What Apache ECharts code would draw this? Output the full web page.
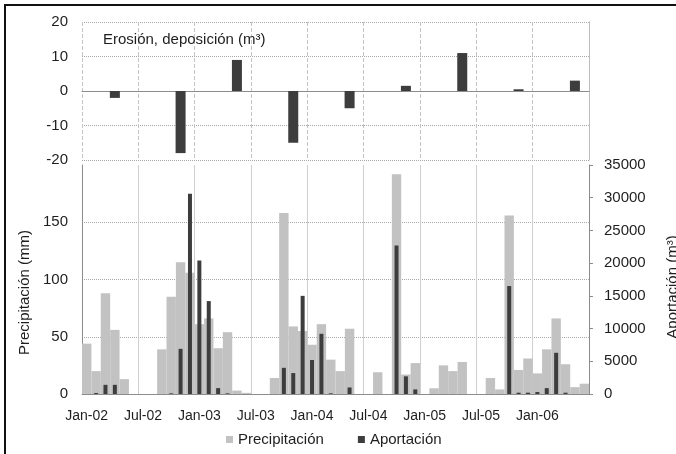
<!DOCTYPE html>
<html><head><meta charset="utf-8">
<script src="https://cdn.jsdelivr.net/npm/echarts@6/dist/echarts.min.js"></script>
<style>html,body{margin:0;padding:0;background:#fff;}#c{width:676px;height:454px;}</style>
</head><body><div id="c"></div>
<script>
const months = [
  'Jan-02','Feb-02','Mar-02','Apr-02','May-02','Jun-02','Jul-02','Aug-02','Sep-02','Oct-02','Nov-02','Dec-02',
  'Jan-03','Feb-03','Mar-03','Apr-03','May-03','Jun-03','Jul-03','Aug-03','Sep-03','Oct-03','Nov-03','Dec-03',
  'Jan-04','Feb-04','Mar-04','Apr-04','May-04','Jun-04','Jul-04','Aug-04','Sep-04','Oct-04','Nov-04','Dec-04',
  'Jan-05','Feb-05','Mar-05','Apr-05','May-05','Jun-05','Jul-05','Aug-05','Sep-05','Oct-05','Nov-05','Dec-05',
  'Jan-06','Feb-06','Mar-06','Apr-06','May-06','Jun-06'
];
// Precipitación (mm), left axis
const precipitacion = [
  44, 20, 88, 56, 13, 0, 0, 0, 39, 85, 115, 106,
  61, 66, 40, 54, 3, 1, 0, 0, 14, 158, 59, 55,
  43, 61, 30, 20, 57, 0, 0, 19, 0, 192, 17, 27,
  0, 5, 25, 20, 28, 0, 0, 14, 4, 156, 21, 31,
  18, 39, 66, 26, 6, 9
];
// Aportación (m³), right axis
const aportacion = [
  0, 150, 1400, 1400, 0, 0, 0, 0, 0, 100, 6900, 30600,
  20400, 14200, 900, 100, 0, 0, 0, 0, 0, 4000, 3200, 15000,
  5200, 9200, 100, 0, 1000, 0, 0, 0, 0, 22700, 2700, 700,
  0, 0, 0, 0, 0, 0, 0, 0, 0, 16500, 200, 200,
  300, 900, 6300, 200, 0, 0
];
// Erosión, deposición (m³), top panel
const erosion = [
  null, null, null, -2, null, null, null, null, null, null, -18, null,
  null, null, null, null, 9, null, null, null, null, null, -15, null,
  null, null, null, null, -5, null, null, null, null, null, 1.5, null,
  null, null, null, null, 11, null, null, null, null, null, 0.5, null,
  null, null, null, null, 3, null
];
const FONT = '"Liberation Sans", Arial, sans-serif';
const TXT = '#1e1e1e';
const chart = echarts.init(document.getElementById('c'), null, {renderer: 'canvas'});
chart.setOption({
  animation: false,
  backgroundColor: '#fff',
  textStyle: {fontFamily: FONT},
  title: {
    text: 'Erosión, deposición (m³)', left: 103, top: 32, padding: 0,
    textStyle: {fontSize: 15, fontWeight: 'normal', color: TXT, fontFamily: FONT}
  },
  legend: {
    data: ['Precipitación', 'Aportación'], left: 226, top: 432, padding: 0,
    itemWidth: 7, itemHeight: 7, itemGap: 34, icon: 'rect',
    textStyle: {fontSize: 15, color: TXT, fontFamily: FONT}
  },
  grid: [
    {left: 82, right: 87, top: 22, height: 138, containLabel: false, outerBoundsMode: 'none'},
    {left: 82, right: 87, top: 165, height: 229, containLabel: false, outerBoundsMode: 'none'}
  ],
  xAxis: [
    {gridIndex: 0, type: 'category', data: months,
     axisLine: {onZero: true, lineStyle: {color: '#8c8c8c'}},
     axisTick: {show: false}, axisLabel: {show: false},
     splitLine: {show: true, interval: 5, lineStyle: {color: '#c4c4c4', type: 'dashed'}}},
    {gridIndex: 1, type: 'category', data: months,
     axisLine: {lineStyle: {color: '#8c8c8c'}},
     axisTick: {interval: 5, length: 4, lineStyle: {color: '#8c8c8c'}},
     axisLabel: {interval: 5, margin: 15, fontSize: 14, color: TXT, fontFamily: FONT},
     splitLine: {show: true, interval: 5, lineStyle: {color: '#cfcfcf'}}},
    {gridIndex: 1, type: 'category', data: months, show: false}
  ],
  yAxis: [
    {gridIndex: 0, type: 'value', min: -20, max: 20, interval: 10,
     axisLine: {show: false}, axisTick: {show: false},
     axisLabel: {margin: 14, fontSize: 15, color: TXT, fontFamily: FONT},
     splitLine: {lineStyle: {color: '#a8a8a8', type: 'dotted'}}},
    {gridIndex: 0, type: 'value', position: 'right', min: -20, max: 20, interval: 10,
     axisLine: {show: true, lineStyle: {color: '#bdbdbd'}},
     axisTick: {show: false}, axisLabel: {show: false}, splitLine: {show: false}},
    {gridIndex: 1, type: 'value', min: 0, max: 200, interval: 50,
     name: 'Precipitación (mm)', nameLocation: 'middle', nameRotate: 90, nameGap: 47,
     nameTextStyle: {fontSize: 15, color: TXT, fontFamily: FONT, padding: [0, 26, 0, 0]},
     axisLine: {show: true, lineStyle: {color: '#8c8c8c'}}, axisTick: {show: false},
     axisLabel: {margin: 14, fontSize: 15, color: TXT, fontFamily: FONT, showMaxLabel: false},
     splitLine: {showMaxLine: false, showMinLine: false, lineStyle: {color: '#a8a8a8', type: 'dotted'}}},
    {gridIndex: 1, type: 'value', position: 'right', min: 0, max: 35000, interval: 5000,
     name: 'Aportación (m³)', nameLocation: 'middle', nameRotate: 90, nameGap: 76,
     nameTextStyle: {fontSize: 15, color: TXT, fontFamily: FONT, padding: [0, 15, 0, 0]},
     axisLine: {show: true, lineStyle: {color: '#8c8c8c'}},
     axisTick: {show: true, length: 4, lineStyle: {color: '#8c8c8c'}},
     axisLabel: {margin: 15, fontSize: 15, color: TXT, fontFamily: FONT, formatter: function (v) { return String(v); }},
     splitLine: {show: false}}
  ],
  series: [
    {name: 'Erosión', type: 'bar', xAxisIndex: 0, yAxisIndex: 0, data: erosion,
     barWidth: 10, itemStyle: {color: '#3d3d3d'}},
    {name: 'Precipitación', type: 'bar', xAxisIndex: 1, yAxisIndex: 2, data: precipitacion,
     barCategoryGap: '0%', itemStyle: {color: '#c2c2c2'}},
    {name: 'Aportación', type: 'bar', xAxisIndex: 2, yAxisIndex: 3, data: aportacion,
     barWidth: 4, z: 3, itemStyle: {color: '#3d3d3d'}}
  ],
  graphic: [
    {type: 'rect', silent: true, z: 100,
     shape: {x: 5, y: 5, width: 720, height: 520},
     style: {fill: 'none', stroke: '#111', lineWidth: 2}}
  ]
});
</script>
</body></html>
